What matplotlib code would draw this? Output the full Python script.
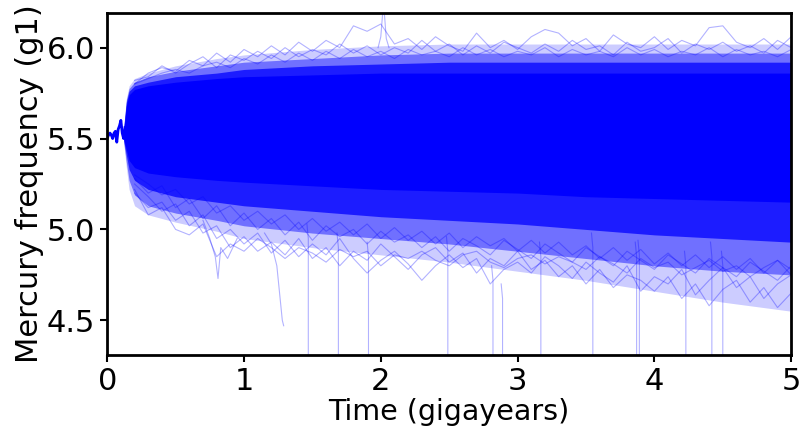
import matplotlib
matplotlib.use('Agg')
import matplotlib.pyplot as plt

# early part, all runs still on top of each other
t_start = [0.0, 0.01, 0.02, 0.03, 0.04, 0.05, 0.06, 0.07, 0.08, 0.09, 0.10, 0.11, 0.12, 0.13]
g_start = [5.50, 5.52, 5.53, 5.52, 5.50, 5.53, 5.54, 5.48, 5.55, 5.57, 5.60, 5.53, 5.50, 5.56]

# envelope of the ensemble, from dense core to sparse edge
t_env = [0.12, 0.14, 0.16, 0.2, 0.3, 0.5, 0.8, 1.0, 1.5, 2.0, 2.5, 3.0, 3.5, 4.0, 4.5, 5.0]
core_hi = [5.54, 5.68, 5.74, 5.77, 5.79, 5.81, 5.83, 5.84, 5.85, 5.86, 5.86, 5.86, 5.86, 5.86, 5.86, 5.86]
core_lo = [5.50, 5.44, 5.38, 5.34, 5.31, 5.29, 5.27, 5.26, 5.24, 5.22, 5.21, 5.20, 5.18, 5.17, 5.16, 5.15]
fringe_hi = [5.55, 5.70, 5.76, 5.79, 5.81, 5.84, 5.86, 5.88, 5.90, 5.91, 5.92, 5.92, 5.92, 5.92, 5.92, 5.92]
fringe_lo = [5.49, 5.41, 5.33, 5.27, 5.22, 5.18, 5.15, 5.13, 5.10, 5.07, 5.05, 5.03, 5.00, 4.97, 4.95, 4.93]
mid_hi = [5.555, 5.71, 5.775, 5.81, 5.84, 5.87, 5.90, 5.92, 5.94, 5.96, 5.97, 5.97, 5.97, 5.97, 5.97, 5.97]
mid_lo = [5.485, 5.37, 5.27, 5.19, 5.13, 5.09, 5.05, 5.02, 4.98, 4.95, 4.92, 4.88, 4.84, 4.80, 4.77, 4.75]
outer_hi = [5.56, 5.72, 5.79, 5.83, 5.86, 5.90, 5.94, 5.96, 5.99, 6.01, 6.02, 6.02, 6.02, 6.02, 6.02, 6.02]
outer_lo = [5.48, 5.34, 5.22, 5.13, 5.08, 5.04, 4.99, 4.95, 4.90, 4.86, 4.82, 4.77, 4.72, 4.66, 4.60, 4.55]

# a few individual runs that stand out
t_run = [0.2, 0.3, 0.4, 0.5, 0.6, 0.7, 0.8, 0.9, 1.0, 1.1, 1.2, 1.3, 1.4, 1.5, 1.6, 1.7, 1.8, 1.9, 2.0,
         2.1, 2.2, 2.3, 2.4, 2.5, 2.6, 2.7, 2.8, 2.9, 3.0, 3.1, 3.2, 3.3, 3.4, 3.5, 3.6, 3.7, 3.8, 3.9,
         4.0, 4.1, 4.2, 4.3, 4.4, 4.5, 4.6, 4.7, 4.8, 4.9, 5.0]
low_a = [5.20, 5.12, 5.15, 5.05, 5.10, 4.98, 5.02, 4.90, 4.96, 4.88, 4.93, 4.86, 4.95, 4.84, 4.90, 4.80,
         4.88, 4.83, 4.92, 4.85, 4.78, 4.86, 4.90, 4.82, 4.87, 4.76, 4.84, 4.80, 4.88, 4.78, 4.83, 4.74,
         4.80, 4.70, 4.78, 4.68, 4.75, 4.72, 4.66, 4.74, 4.62, 4.70, 4.58, 4.67, 4.72, 4.60, 4.68, 4.57, 4.65]
low_b = [5.25, 5.18, 5.10, 5.14, 5.02, 5.08, 4.95, 5.00, 4.92, 4.98, 4.87, 4.94, 4.85, 4.92, 4.86, 4.95,
         4.84, 4.76, 4.83, 4.88, 4.81, 4.72, 4.80, 4.86, 4.79, 4.84, 4.70, 4.78, 4.82, 4.76, 4.85, 4.80,
         4.73, 4.82, 4.76, 4.71, 4.80, 4.66, 4.74, 4.70, 4.78, 4.64, 4.72, 4.79, 4.68, 4.74, 4.62, 4.70, 4.75]
low_c = [5.22, 5.08, 5.12, 5.00, 4.97, 5.03, 4.85, 4.92, 4.88, 4.95, 4.90, 4.84, 4.90, 4.87, 4.82, 4.89,
         4.85, 4.88, 4.80, 4.86, 4.84, 4.88, 4.83, 4.80, 4.86, 4.88, 4.82, 4.79, 4.84, 4.86, 4.81, 4.85,
         4.82, 4.78, 4.85, 4.81, 4.76, 4.84, 4.79, 4.82, 4.75, 4.79, 4.83, 4.77, 4.80, 4.74, 4.79, 4.83, 4.78]
low_d = [5.28, 5.20, 5.24, 5.12, 5.17, 5.06, 5.13, 5.02, 5.09, 5.00, 5.06, 4.97, 5.04, 4.94, 5.02, 4.96,
         5.00, 4.92, 4.99, 4.93, 4.97, 4.90, 4.96, 4.88, 4.95, 4.91, 4.86, 4.94, 4.89, 4.84, 4.92, 4.87,
         4.82, 4.90, 4.85, 4.80, 4.88, 4.83, 4.78, 4.86, 4.81, 4.76, 4.84, 4.79, 4.74, 4.82, 4.77, 4.72, 4.80]
low_e = [5.30, 5.25, 5.19, 5.22, 5.14, 5.18, 5.09, 5.13, 5.05, 5.10, 5.03, 5.08, 5.00, 5.06, 4.99, 5.04,
         4.97, 5.03, 4.95, 5.01, 4.94, 4.99, 4.92, 4.98, 4.90, 4.96, 4.91, 4.95, 4.88, 4.94, 4.87, 4.93,
         4.86, 4.91, 4.84, 4.90, 4.83, 4.89, 4.81, 4.87, 4.80, 4.86, 4.79, 4.85, 4.78, 4.84, 4.76, 4.83, 4.75]
high_a = [5.80, 5.86, 5.89, 5.87, 5.93, 5.90, 5.97, 5.92, 5.99, 5.95, 6.01, 5.96, 6.03, 5.98, 6.04, 6.00,
          6.12, 6.09, 6.13, 6.02, 6.05, 5.99, 6.06, 6.01, 5.98, 6.08, 6.00, 6.04, 5.99, 6.06, 6.10, 6.08,
          6.01, 6.05, 5.98, 6.07, 6.02, 6.00, 6.06, 5.99, 6.04, 6.01, 6.11, 6.12, 6.03, 6.00, 6.05, 5.99, 6.06]
high_b = [5.82, 5.84, 5.90, 5.86, 5.91, 5.95, 5.89, 5.96, 5.93, 5.98, 5.94, 6.00, 5.95, 5.99, 5.96, 6.02,
          5.97, 6.01, 5.96, 6.00, 5.97, 6.04, 5.98, 6.02, 5.96, 6.01, 5.97, 6.03, 6.00, 5.97, 6.02, 5.98,
          6.04, 5.99, 6.01, 5.96, 6.03, 5.98, 6.00, 6.05, 5.97, 6.02, 5.99, 6.03, 5.98, 6.01, 5.97, 6.04, 6.00]
high_c = [5.80, 5.83, 5.86, 5.88, 5.86, 5.90, 5.92, 5.89, 5.94, 5.91, 5.96, 5.92, 5.97, 5.93, 5.98, 5.94,
          5.99, 5.95, 5.98, 5.94, 5.99, 5.96, 5.98, 5.95, 6.00, 5.96, 5.99, 5.95, 5.98, 5.96, 6.00, 5.95,
          5.99, 5.96, 5.98, 5.95, 6.00, 5.96, 5.99, 5.95, 5.98, 5.96, 6.00, 5.95, 5.99, 5.96, 5.98, 5.95, 5.99]

# runs that fall out of the plotted range
drop_t = [1.47, 1.69, 1.91, 2.49, 2.82, 2.89, 3.17, 3.55, 3.87, 3.89, 4.23, 4.42, 4.50]
drop_from = [4.95, 4.90, 4.85, 4.88, 4.72, 4.62, 4.85, 4.90, 4.85, 4.86, 4.80, 4.85, 4.80]
cut_t = [1.15, 1.20, 1.24, 1.26, 1.28, 1.29]
cut_g = [4.98, 4.92, 4.80, 4.65, 4.50, 4.47]
dip_t = [0.70, 0.75, 0.79, 0.81, 0.83, 0.88, 0.95]
dip_g = [5.05, 4.95, 4.85, 4.73, 4.90, 4.84, 4.95]
spike_t = [1.98, 2.00, 2.02, 2.04, 2.06]
spike_g = [6.00, 6.06, 6.25, 6.05, 6.00]

fig = plt.figure(figsize=(8, 4.37), dpi=100)
ax = fig.add_axes([0.134, 0.188, 0.855, 0.782])

ax.fill_between(t_env, outer_lo, outer_hi, color='b', alpha=0.2, lw=0)
ax.fill_between(t_env, mid_lo, mid_hi, color='b', alpha=0.45, lw=0)
ax.fill_between(t_env, fringe_lo, fringe_hi, color='b', alpha=0.75, lw=0)
ax.fill_between(t_env, core_lo, core_hi, color='b', alpha=1.0, lw=0)

for g in [low_a, low_b, low_c, low_d, low_e, high_a, high_b, high_c]:
    ax.plot(t_run, g, color='b', lw=0.8, alpha=0.3)
for t, g0 in zip(drop_t, drop_from):
    ax.plot([t - 0.01, t, t], [g0 + 0.08, g0, 4.0], color='b', lw=0.8, alpha=0.3)
ax.plot(cut_t, cut_g, color='b', lw=0.8, alpha=0.3)
ax.plot(dip_t, dip_g, color='b', lw=0.8, alpha=0.3)
ax.plot(spike_t, spike_g, color='b', lw=0.8, alpha=0.3)
ax.plot(t_start, g_start, color='b', lw=2)

ax.set_xlim(0, 5)
ax.set_ylim(4.31, 6.19)
ax.set_xticks([0, 1, 2, 3, 4, 5])
ax.set_yticks([4.5, 5.0, 5.5, 6.0])
ax.tick_params(labelsize=22, width=1.5, length=5)
for s in ax.spines.values():
    s.set_linewidth(2)
ax.set_xlabel('Time (gigayears)', fontsize=20.5, labelpad=2)
ax.set_ylabel('Mercury frequency (g1)', fontsize=22, labelpad=2)

plt.savefig('out.png', dpi=100)
